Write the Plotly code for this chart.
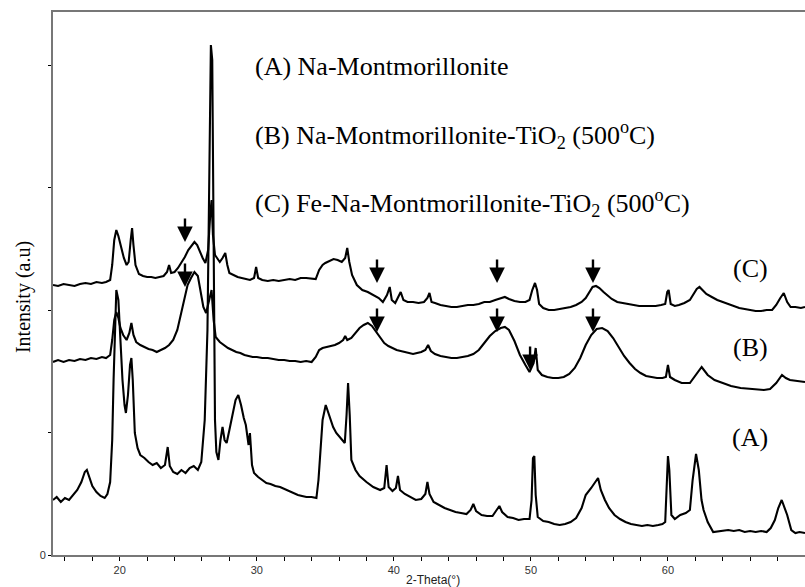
import plotly.graph_objects as go

# --- XRD patterns (2-Theta in degrees, intensity in arbitrary units, stacked) ---
tt_A = [15.13, 15.4, 15.7, 16.0, 16.3, 16.6, 16.9, 17.2, 17.45, 17.6, 17.8, 18.0, 18.3, 18.6, 18.9,
        19.1, 19.3, 19.45, 19.55, 19.65, 19.75, 19.9, 20.05, 20.2, 20.35, 20.45, 20.6, 20.75, 20.85,
        20.95, 21.1, 21.3, 21.5, 21.8, 22.1, 22.4, 22.7, 23.0, 23.3, 23.5, 23.65, 23.9, 24.2, 24.5,
        24.8, 25.1, 25.4, 25.7, 25.95, 26.2, 26.4, 26.55, 26.65, 26.75, 26.85, 26.95, 27.05, 27.2,
        27.35, 27.5, 27.65, 27.8, 28.0, 28.2, 28.45, 28.65, 28.85, 29.05, 29.2, 29.4, 29.5, 29.65,
        29.8, 30.1, 30.4, 30.7, 31.0, 31.35, 31.7, 32.0, 32.3, 32.65, 33.0, 33.3, 33.62, 34.0,
        34.35, 34.5, 34.62, 34.8, 35.03, 35.25, 35.57, 35.8, 36.05, 36.25, 36.42, 36.55, 36.66,
        36.78, 36.9, 37.2, 37.5, 38.0, 38.5, 39.0, 39.3, 39.47, 39.62, 39.9, 40.15, 40.3, 40.45,
        40.8, 41.2, 41.6, 42.0, 42.3, 42.45, 42.6, 42.9, 43.3, 43.7, 44.1, 44.5, 44.9, 45.3, 45.6,
        45.8, 46.0, 46.4, 46.8, 47.2, 47.5, 47.7, 47.9, 48.3, 48.7, 49.1, 49.5, 49.9, 50.05, 50.15,
        50.25, 50.35, 50.5, 50.9, 51.3, 51.7, 52.1, 52.5, 52.9, 53.3, 53.7, 54.0, 54.4, 54.75,
        54.9, 55.1, 55.4, 55.7, 56.1, 56.5, 56.9, 57.3, 57.7, 58.1, 58.5, 58.9, 59.3, 59.6, 59.8,
        59.9, 60.0, 60.1, 60.25, 60.5, 60.9, 61.3, 61.6, 61.8, 62.05, 62.25, 62.45, 62.6, 62.9,
        63.3, 63.7, 64.0, 64.4, 64.8, 65.2, 65.6, 66.0, 66.4, 66.8, 67.2, 67.5, 67.8, 68.05, 68.3,
        68.5, 68.7, 69.0, 69.3, 69.6, 70.0]
int_A = [55, 58, 53, 57, 55, 60, 65, 73, 83, 85, 77, 69, 63, 59, 57,
         61, 73, 115, 175, 235, 265, 255, 215, 175, 150, 142, 160, 190, 197,
         175, 122, 107, 100, 97, 93, 90, 92, 87, 90, 108, 89, 83, 81, 85,
         82, 87, 89, 85, 93, 135, 225, 405, 510, 495, 305, 135, 103, 95,
         115, 128, 115, 112, 125, 140, 155, 160, 150, 137, 130, 110, 122, 90,
         82, 78, 75, 72, 71, 69, 68, 66, 64, 62, 60, 59, 58, 58,
         57, 75, 100, 135, 150, 140, 128, 122, 118, 115, 112, 140, 172,
         140, 95, 85, 79, 73, 68, 65, 67, 90, 68, 64, 67, 79, 65,
         61, 58, 55, 56, 61, 73, 61, 53, 50, 47, 45, 43, 42, 41, 45,
         51, 44, 40, 39, 39, 45, 49, 43, 38, 37, 35, 36, 36, 55, 97,
         99, 60, 38, 34, 33, 31, 30, 31, 33, 37, 47, 60, 67, 75,
         77, 65, 55, 47, 40, 36, 33, 31, 30, 29, 30, 29, 30, 31, 33,
         65, 99, 85, 40, 36, 40, 42, 45, 75, 101, 85, 55, 45, 33,
         23, 24, 24, 25, 24, 25, 23, 24, 23, 24, 23, 27, 35, 47, 55,
         47, 40, 25, 22, 23, 22]

tt_B = [15.13, 15.5, 15.9, 16.3, 16.7, 17.1, 17.5, 17.9, 18.3, 18.7, 19.0, 19.3, 19.45, 19.6,
        19.75, 19.9, 20.05, 20.25, 20.5, 20.7, 20.85, 21.0, 21.2, 21.5, 21.8, 22.1, 22.4, 22.7,
        23.0, 23.3, 23.6, 23.9, 24.2, 24.45, 24.7, 24.95, 25.2, 25.45, 25.7, 25.9, 26.1, 26.3,
        26.5, 26.7, 26.85, 27.0, 27.3, 27.6, 27.9, 28.2, 28.5, 28.8, 29.1, 29.4, 29.7, 30.0, 30.4,
        30.8, 31.2, 31.6, 32.0, 32.4, 32.8, 33.2, 33.6, 34.0, 34.3, 34.55, 34.8, 35.1, 35.4, 35.7,
        36.0, 36.3, 36.45, 36.6, 36.9, 37.2, 37.5, 37.8, 38.1, 38.4, 38.7, 39.0, 39.3, 39.6, 39.9,
        40.2, 40.5, 40.8, 41.1, 41.4, 41.7, 42.0, 42.3, 42.5, 42.7, 43.0, 43.4, 43.8, 44.2, 44.6,
        45.0, 45.4, 45.8, 46.2, 46.6, 47.0, 47.4, 47.8, 48.1, 48.4, 48.8, 49.2, 49.6, 49.9, 50.2,
        50.35, 50.5, 50.8, 51.2, 51.6, 52.0, 52.4, 52.8, 53.2, 53.6, 54.0, 54.4, 54.8, 55.2, 55.6,
        56.0, 56.4, 56.8, 57.2, 57.6, 58.0, 58.4, 58.8, 59.2, 59.6, 59.85, 60.0, 60.15, 60.5,
        61.0, 61.6, 62.0, 62.46, 62.9, 63.4, 64.0, 64.6, 65.3, 66.0, 66.5, 67.0, 67.45, 67.9,
        68.32, 68.6, 68.9, 69.4, 70.0]
int_B = [193, 195, 193, 195, 194, 196, 195, 197, 196, 198, 197, 200, 215, 235,
         243, 237, 227, 220, 215, 222, 232, 220, 213, 210, 208, 206, 205, 203,
         205, 207, 210, 215, 225, 240, 258, 270, 277, 283, 279, 265, 248, 242,
         255, 265, 235, 218, 213, 210, 207, 205, 203, 202, 200, 199, 198, 198, 197,
         197, 196, 195, 195, 194, 194, 193, 194, 193, 198, 205, 207, 208, 209, 210,
         212, 215, 219, 215, 217, 222, 227, 230, 232, 229, 223, 217, 212, 209, 207,
         205, 204, 203, 202, 201, 202, 203, 205, 210, 204, 201, 199, 198, 197, 197,
         198, 199, 201, 205, 212, 219, 224, 227, 228, 225, 214, 200, 190, 183, 192,
         207, 185, 180, 178, 177, 177, 178, 181, 187, 197, 210, 220, 226, 227, 224,
         217, 208, 199, 192, 186, 182, 179, 178, 177, 177, 178, 190, 178, 175,
         172, 172, 180, 188, 180, 175, 172, 169, 167, 166, 165, 165, 166, 172,
         180, 177, 175, 174, 173]

tt_C = [15.13, 15.5, 15.9, 16.3, 16.7, 17.1, 17.5, 17.9, 18.3, 18.7, 19.0, 19.3, 19.45, 19.6,
        19.75, 19.9, 20.05, 20.3, 20.5, 20.65, 20.8, 20.9, 21.0, 21.15, 21.4, 21.7, 22.0, 22.3,
        22.6, 22.9, 23.2, 23.45, 23.6, 23.75, 24.0, 24.25, 24.5, 24.75, 25.0, 25.25, 25.45, 25.65,
        25.85, 26.05, 26.25, 26.45, 26.6, 26.7, 26.8, 26.95, 27.1, 27.3, 27.5, 27.7, 27.85, 28.0,
        28.3, 28.6, 28.9, 29.2, 29.5, 29.8, 29.95, 30.1, 30.4, 30.8, 31.2, 31.6, 32.0, 32.4, 32.8,
        33.2, 33.6, 34.0, 34.3, 34.55, 34.8, 35.0, 35.3, 35.6, 35.9, 36.2, 36.45, 36.6, 36.75,
        36.95, 37.3, 37.7, 38.1, 38.5, 38.9, 39.2, 39.5, 39.7, 39.85, 40.1, 40.35, 40.5, 40.7,
        41.0, 41.4, 41.8, 42.2, 42.45, 42.6, 42.75, 43.0, 43.4, 43.8, 44.2, 44.6, 45.0, 45.4,
        45.8, 46.2, 46.6, 47.0, 47.4, 47.8, 48.1, 48.4, 48.8, 49.2, 49.6, 49.9, 50.1, 50.3,
        50.45, 50.6, 50.9, 51.3, 51.7, 52.1, 52.5, 52.9, 53.3, 53.7, 54.0, 54.3, 54.5, 54.75,
        55.0, 55.3, 55.6, 55.9, 56.3, 56.7, 57.1, 57.5, 57.9, 58.3, 58.7, 59.1, 59.5, 59.8,
        59.95, 60.05, 60.2, 60.5, 60.8, 61.2, 61.6, 61.9, 62.1, 62.3, 62.5, 62.8, 63.2, 63.6,
        64.0, 64.4, 64.8, 65.2, 65.6, 66.0, 66.4, 66.8, 67.2, 67.6, 67.9, 68.2, 68.45, 68.7,
        68.95, 69.3, 69.7, 70.0]
int_C = [270, 269, 271, 270, 269, 271, 272, 271, 273, 272, 273, 275, 290, 315,
         325, 319, 310, 297, 290, 293, 315, 327, 310, 290, 281, 279, 278, 278,
         277, 278, 279, 283, 290, 282, 283, 287, 292, 298, 305, 310, 313, 310,
         303, 297, 292, 305, 340, 355, 320, 300, 297, 293, 297, 302, 290, 282,
         280, 278, 277, 276, 275, 277, 288, 277, 275, 274, 275, 274, 275, 276, 275,
         277, 277, 276, 276, 285, 290, 292, 294, 296, 295, 293, 297, 307, 293,
         280, 270, 265, 263, 260, 257, 253, 260, 268, 255, 252, 259, 263, 255,
         253, 253, 252, 253, 257, 262, 253, 252, 250, 249, 248, 248, 249, 250,
         250, 251, 253, 253, 255, 257, 258, 256, 254, 253, 253, 255, 265, 272,
         265, 251, 247, 245, 245, 246, 247, 248, 250, 253, 257, 263, 268, 269,
         267, 263, 259, 256, 253, 252, 251, 250, 249, 249, 249, 249, 250, 251,
         263, 265, 251, 249, 250, 252, 255, 262, 266, 268, 265, 261, 258, 255,
         253, 251, 249, 247, 246, 245, 244, 244, 245, 245, 250, 257, 262, 253,
         248, 248, 247, 248]

# Arrow markers: tip positions (2-Theta, intensity) on patterns C and B
arrow_tt_C = [24.76, 38.77, 47.53, 54.53]
arrow_int_C = [313, 272, 272, 272]
arrow_tt_B = [24.76, 38.77, 47.53, 54.53, 49.94]
arrow_int_B = [268, 223, 223, 223, 185]

x_ticks = list(range(16, 71, 2))
x_ticktext = [str(v) if v % 10 == 0 else "" for v in x_ticks]
y_ticks = [0, 122.5, 245, 367.5, 490]
y_ticktext = ["0", "", "", "", ""]

legend_lines = [
    "(A) Na-Montmorillonite",
    "(B) Na-Montmorillonite-TiO<sub>2</sub> (500<sup>o</sup>C)",
    "(C) Fe-Na-Montmorillonite-TiO<sub>2</sub> (500<sup>o</sup>C)",
]
curve_tags = ["(A)", "(B)", "(C)"]

SERIF = "Liberation Serif, Times New Roman, serif"
SANS = "Liberation Sans, Arial, sans-serif"

for tt, inten in [(tt_A, int_A), (tt_B, int_B), (tt_C, int_C)]:
    assert len(tt) == len(inten)

fig = go.Figure()
for tt, inten in [(tt_A, int_A), (tt_B, int_B), (tt_C, int_C)]:
    fig.add_trace(go.Scatter(x=tt, y=inten, mode="lines",
                             line=dict(color="black", width=2.1),
                             hoverinfo="skip", showlegend=False))

annotations = []
for tx, ty in list(zip(arrow_tt_C, arrow_int_C)) + list(zip(arrow_tt_B, arrow_int_B)):
    annotations.append(dict(x=tx, y=ty, xref="x", yref="y", text="", showarrow=True,
                            ax=0, ay=-25, arrowhead=2, arrowsize=1.3, arrowwidth=2.4,
                            arrowcolor="black", standoff=0))

for i, line in enumerate(legend_lines):
    annotations.append(dict(x=0.266, y=0.899 - i * 0.1253, xref="paper", yref="paper",
                            text=line, showarrow=False, xanchor="left", yanchor="middle",
                            font=dict(family=SERIF, size=26, color="black")))

for tag, ypos in zip(curve_tags, [0.2155, 0.383, 0.5285]):
    annotations.append(dict(x=0.927, y=ypos, xref="paper", yref="paper", text=tag,
                            showarrow=False, xanchor="center", yanchor="middle",
                            font=dict(family=SERIF, size=26, color="black")))

annotations.append(dict(x=-0.0399, y=0.475, xref="paper", yref="paper",
                        text="Intensity (a.u)", textangle=-90, showarrow=False,
                        xanchor="center", yanchor="middle",
                        font=dict(family=SERIF, size=20, color="black")))
annotations.append(dict(x=0.505, y=-0.046, xref="paper", yref="paper",
                        text="2-Theta(°)", showarrow=False,
                        xanchor="center", yanchor="middle",
                        font=dict(family=SANS, size=12, color="#222")))

fig.update_layout(
    width=805, height=587,
    margin=dict(l=53, r=0, t=12, b=32),
    paper_bgcolor="white", plot_bgcolor="white",
    showlegend=False,
    annotations=annotations,
    xaxis=dict(range=[15.13, 70.0], tickmode="array", tickvals=x_ticks, ticktext=x_ticktext,
               ticks="outside", ticklen=4, tickwidth=1, tickcolor="black",
               showline=True, linecolor="#777", linewidth=2, mirror=True,
               showgrid=False, zeroline=False,
               tickfont=dict(family=SANS, size=11, color="#333")),
    yaxis=dict(range=[0, 543], tickmode="array", tickvals=y_ticks, ticktext=y_ticktext,
               ticks="outside", ticklen=3, tickwidth=1, tickcolor="black",
               showline=True, linecolor="#777", linewidth=2,
               showgrid=False, zeroline=False,
               tickfont=dict(family=SANS, size=11, color="#333")),
)

fig.write_html("out.html")
